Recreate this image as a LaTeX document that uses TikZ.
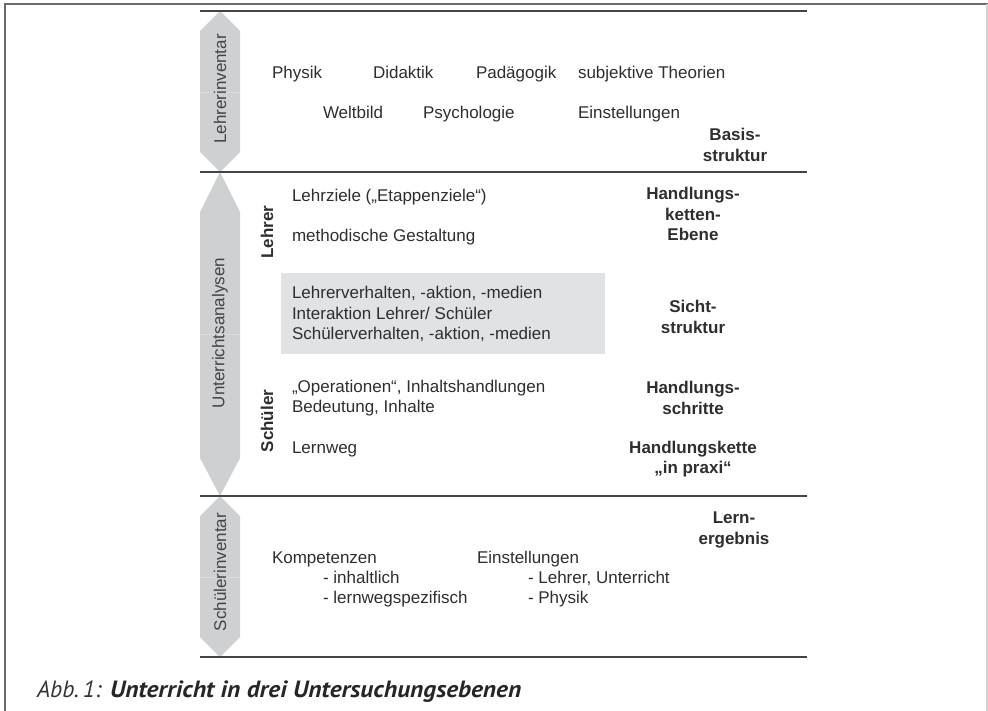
\documentclass[tikz,border=0pt]{standalone}
\usepackage{fontspec}
\setmainfont{Liberation Sans}
\newfontfamily\capfont{PT Sans}
\definecolor{hexgray}{HTML}{CFD0D2}
\definecolor{seamgray}{HTML}{DCDDDF}
\definecolor{boxgray}{HTML}{E1E2E4}
\definecolor{rulegray}{HTML}{444444}
\definecolor{txtgray}{HTML}{2E2E2E}
\definecolor{framegray}{HTML}{6A6A6A}
\definecolor{framelight}{HTML}{D0D0D0}
\begin{document}
\begin{tikzpicture}[x=1bp,y=-1bp,
  every node/.style={inner sep=0pt,outer sep=0pt,text=txtgray},
  body/.style={font=\fontsize{17bp}{20.5bp}\selectfont},
  lefttext/.style={body,anchor=base west},
  righttext/.style={font=\bfseries\fontsize{17bp}{20.5bp}\selectfont,align=center,anchor=center},
  hexlabel/.style={rotate=90,font=\fontsize{17bp}{20bp}\selectfont,text=rulegray},
  sidelabel/.style={rotate=90,font=\bfseries\fontsize{17bp}{20bp}\selectfont},
  hrule/.style={draw=rulegray,line width=2bp},
  hexfill/.style={fill=hexgray},
  seam/.style={draw=seamgray,line width=0.8bp}]
\useasboundingbox (0,0) rectangle (988,711);
% frame
\draw[framegray,line width=1.5bp] (5,711) -- (5,4) -- (988,4);
\draw[framelight,line width=1.2bp] (987,4) -- (987,711);
% hexagons
\fill[hexfill] (200,31) -- (220,11) -- (240,31) -- (240,152) -- (220,172) -- (200,152) -- cycle;
\fill[hexfill] (200,212) -- (220,172) -- (240,212) -- (240,458) -- (220,496) -- (200,458) -- cycle;
\fill[hexfill] (200,516) -- (220,496) -- (240,516) -- (240,637) -- (220,657) -- (200,637) -- cycle;
\draw[seam] (200,92) -- (240,92);
\draw[seam] (200,334) -- (240,334);
\draw[seam] (200,577) -- (240,577);
\node[hexlabel] (lehrerinv) at (220,89) {Lehrerinventar};
\node[hexlabel] (unterricht) at (220,333) {Unterrichtsanalysen};
\node[hexlabel] (schuelerinv) at (220,572) {Schülerinventar};
% rules
\draw[hrule] (200,11) -- (807,11);
\draw[hrule] (200,172) -- (807,172);
\draw[hrule] (200,496) -- (807,496);
\draw[hrule] (200,657) -- (807,657);
% grey box
\fill[boxgray] (281,273) rectangle (605,354);
% top section
\node[lefttext] (physik) at (272,79) {Physik};
\node[lefttext] (didaktik) at (373,79) {Didaktik};
\node[lefttext] (paed) at (476,79) {Padägogik};
\node[lefttext] (subj) at (578,79) {subjektive Theorien};
\node[lefttext] (weltbild) at (323,119) {Weltbild};
\node[lefttext] (psych) at (423,119) {Psychologie};
\node[lefttext] (einst1) at (578,119) {Einstellungen};
\node[righttext] (basis) at (735,145) {Basis-\\struktur};
% middle section
\node[sidelabel] (lehrer) at (267,232) {Lehrer};
\node[lefttext] (lehrziele) at (292,201) {Lehrziele („Etappenziele“)};
\node[lefttext] (method) at (292,241) {methodische Gestaltung};
\node[body,anchor=west,align=left] (boxtext) at (292,314) {Lehrerverhalten, -aktion, -medien\\Interaktion Lehrer/ Schüler\\Schülerverhalten, -aktion, -medien};
\node[sidelabel] (schueler) at (267,421) {Schüler};
\node[lefttext] (oper) at (292,392) {„Operationen“, Inhaltshandlungen};
\node[lefttext] (bedeut) at (292,412) {Bedeutung, Inhalte};
\node[lefttext] (lernweg) at (292,453) {Lernweg};
\node[righttext] (hke) at (693,214) {Handlungs-\\ketten-\\Ebene};
\node[righttext] (sicht) at (693,317) {Sicht-\\struktur};
\node[righttext] (hschritte) at (693,398) {Handlungs-\\schritte};
\node[righttext] (hkette) at (693,459) {Handlungskette\\„in praxi“};
% bottom section
\node[righttext] (lern) at (734,530) {Lern-\\ergebnis};
\node[lefttext] (komp) at (272,563) {Kompetenzen};
\node[lefttext] (inhalt) at (323,583) {- inhaltlich};
\node[lefttext] (lwspez) at (323,603) {- lernwegspezifisch};
\node[lefttext] (einst2) at (477,563) {Einstellungen};
\node[lefttext] (lehrunt) at (528,583) {- Lehrer, Unterricht};
\node[lefttext] (phys2) at (528,603) {- Physik};
% caption
\node[anchor=base west,font=\capfont\itshape\fontsize{23.5bp}{26bp}\selectfont,text=black!80] (abb) at (37,697) {Abb.\,1:};
\node[anchor=base west,font=\capfont\itshape\bfseries\fontsize{23.5bp}{26bp}\selectfont,text=black!85] (captitle) at (110,697) {\addfontfeature{FakeStretch=1.08}Unterricht in drei Untersuchungsebenen};
\end{tikzpicture}
\end{document}
